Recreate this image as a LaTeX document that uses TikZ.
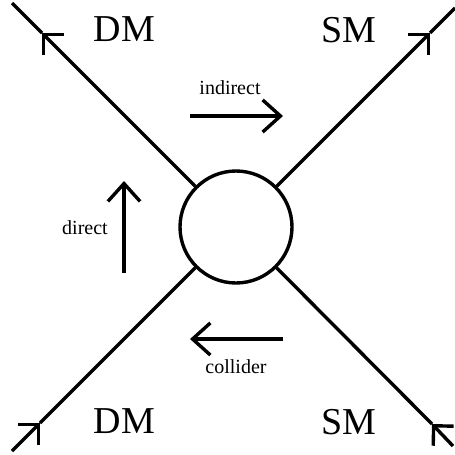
\documentclass[tikz,border=0pt]{standalone}
\usepackage{fontspec}
\setmainfont{Liberation Serif}
\usetikzlibrary{arrows.meta}

\begin{document}
\begin{tikzpicture}[
    x=0.5pt, y=-0.5pt,
    leg/.style={line width=1.7pt},
    fermion/.style={leg, -{Straight Barb[angle=90:10pt]}},
    flow/.style={line width=1.7pt, -{Straight Barb[angle=84:12pt]}},
    big/.style={font=\fontsize{19}{22}\selectfont, anchor=base},
    small/.style={font=\fontsize{10}{12}\selectfont, anchor=base}
]
\useasboundingbox (0,0) rectangle (455,455);

\node[draw, circle, line width=1.7pt, minimum size=56pt, inner sep=0pt] (blob) at (236,227) {};

% legs
\coordinate (tl-end) at (12,3);
\coordinate (tl-tip) at (42,33);
\coordinate (tr-end) at (455,8);
\coordinate (tr-tip) at (430,33);
\coordinate (bl-end) at (12,451);
\coordinate (bl-tip) at (40,423);
\coordinate (br-end) at (453,446);
\coordinate (br-tip) at (432,424);

\draw[fermion] (blob) -- (tl-tip);
\draw[leg] (tl-tip) -- (tl-end);
\draw[fermion] (blob) -- (tr-tip);
\draw[leg] (tr-tip) -- (tr-end);
\draw[fermion] (bl-end) -- (bl-tip);
\draw[leg] (bl-tip) -- (blob);
\draw[fermion] (br-end) -- (br-tip);
\draw[leg] (br-tip) -- (blob);

\node[big] (dm-top) at (124.5,41) {DM};
\node[big] (sm-top) at (349,42) {SM};
\node[big] (dm-bot) at (124.5,433) {DM};
\node[big] (sm-bot) at (348.5,434) {SM};

% detection channels
\coordinate (ind-s) at (190,116);
\coordinate (ind-e) at (283,116);
\coordinate (dir-s) at (124,273);
\coordinate (dir-e) at (124,181);
\coordinate (col-s) at (283,339);
\coordinate (col-e) at (190,339);

\draw[flow] (ind-s) -- (ind-e);
\draw[flow] (dir-s) -- (dir-e);
\draw[flow] (col-s) -- (col-e);

\node[small] (ind-lbl) at (230,94) {indirect};
\node[small] (dir-lbl) at (85,234) {direct};
\node[small] (col-lbl) at (236,373) {collider};
\end{tikzpicture}
\end{document}
